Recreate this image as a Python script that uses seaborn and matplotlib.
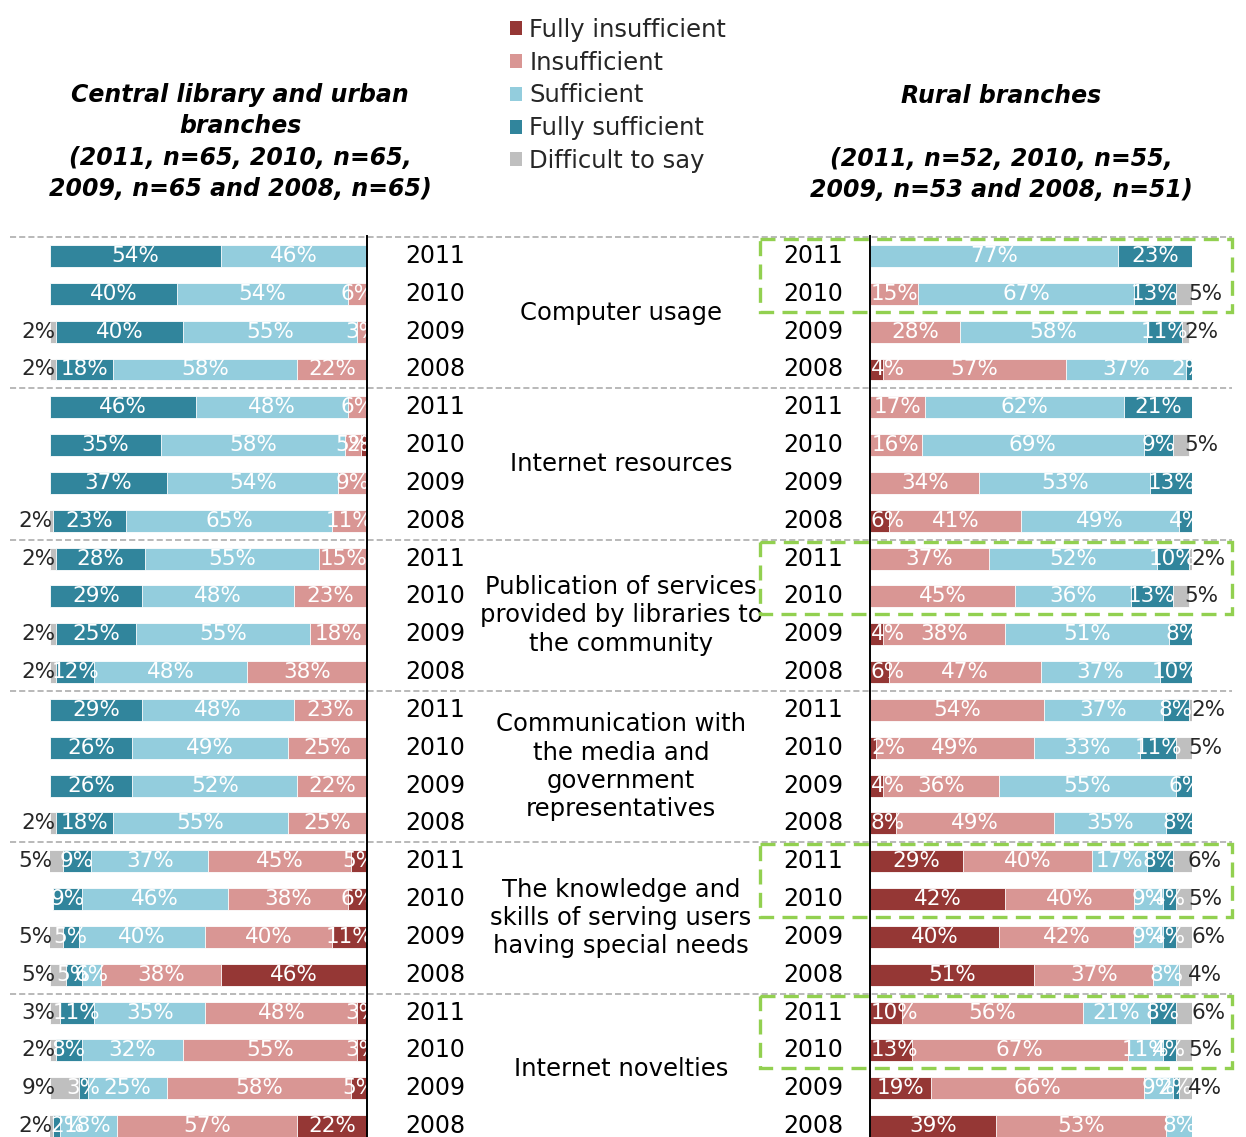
import numpy as np
import pandas as pd
import seaborn as sns
from matplotlib import pyplot as plt
from matplotlib.patches import Patch, Rectangle

sns.set_theme(style="white")
plt.rcParams['font.family'] = ['DejaVu Sans']
plt.rcParams['text.color'] = 'black'

levels = ['Fully insufficient', 'Insufficient', 'Sufficient', 'Fully sufficient', 'Difficult to say']
colors = ['#953735', '#D99694', '#93CDDD', '#31859C', '#BFBFBF']
groups = ['Computer usage',
          'Internet resources',
          'Publication of services\nprovided by libraries to\nthe community',
          'Communication with\nthe media and\ngovernment\nrepresentatives',
          'The knowledge and\nskills of serving users\nhaving special needs',
          'Internet novelties']
years = ['2011', '2010', '2009', '2008']
boxed_groups = [0, 2, 4, 5]

left_title = 'Central library and urban\nbranches\n(2011, n=65, 2010, n=65,\n2009, n=65 and 2008, n=65)'
right_title = 'Rural branches\n\n(2011, n=52, 2010, n=55,\n2009, n=53 and 2008, n=51)'

# central library and urban branches, rows = group x year (2011..2008)
urban_fully_insufficient = [0, 0, 0, 0, 0, 2, 0, 0, 0, 0, 0, 0, 0, 0, 0, 0, 5, 6, 11, 46, 3, 3, 5, 22]
urban_insufficient = [0, 6, 3, 22, 6, 5, 9, 11, 15, 23, 18, 38, 23, 25, 22, 25, 45, 38, 40, 38, 48, 55, 58, 57]
urban_sufficient = [46, 54, 55, 58, 48, 58, 54, 65, 55, 48, 55, 48, 48, 49, 52, 55, 37, 46, 40, 6, 35, 32, 25, 18]
urban_fully_sufficient = [54, 40, 40, 18, 46, 35, 37, 23, 28, 29, 25, 12, 29, 26, 26, 18, 9, 9, 5, 5, 11, 8, 3, 2]
urban_difficult = [0, 0, 2, 2, 0, 0, 0, 2, 2, 0, 2, 2, 0, 0, 0, 2, 5, 0, 5, 5, 3, 2, 9, 2]

# rural branches
rural_fully_insufficient = [0, 0, 0, 4, 0, 0, 0, 6, 0, 0, 4, 6, 0, 2, 4, 8, 29, 42, 40, 51, 10, 13, 19, 39]
rural_insufficient = [0, 15, 28, 57, 17, 16, 34, 41, 37, 45, 38, 47, 54, 49, 36, 49, 40, 40, 42, 37, 56, 67, 66, 53]
rural_sufficient = [77, 67, 58, 37, 62, 69, 53, 49, 52, 36, 51, 37, 37, 33, 55, 35, 17, 9, 9, 8, 21, 11, 9, 8]
rural_fully_sufficient = [23, 13, 11, 2, 21, 9, 13, 4, 10, 13, 8, 10, 8, 11, 6, 8, 8, 4, 4, 0, 8, 4, 2, 0]
rural_difficult = [0, 5, 2, 0, 0, 5, 0, 0, 2, 5, 0, 0, 2, 5, 0, 0, 6, 5, 6, 4, 6, 5, 4, 0]

row_order = [f'{g}|{y}' for g in range(len(groups)) for y in years]


def make_frame(series):
    df = pd.DataFrame(dict(zip(levels, series)))
    df['row'] = row_order
    return df


urban = make_frame([urban_fully_insufficient, urban_insufficient, urban_sufficient,
                    urban_fully_sufficient, urban_difficult])
rural = make_frame([rural_fully_insufficient, rural_insufficient, rural_sufficient,
                    rural_fully_sufficient, rural_difficult])

W, H = 1246, 1137
fig = plt.figure(figsize=(W / 100, H / 100), dpi=100)

# rows: centre of row r sits at 256 + 37.83*r pixels from the top
row_px = 37.83
top_px = 256 - 0.53 * row_px
bot_px = 256 + 23.5 * row_px
ax_bottom = 1 - bot_px / H
ax_height = (bot_px - top_px) / H
ylim = (23.5, -0.53)
label_fs = 15.5

ax_bg = fig.add_axes([0, ax_bottom, 1, ax_height], zorder=0)
ax_bg.set_xlim(0, W)
ax_bg.set_ylim(*ylim)
ax_bg.axis('off')

ax_l = fig.add_axes([50 / W, ax_bottom, 317 / W, ax_height], zorder=2)
ax_r = fig.add_axes([870 / W, ax_bottom, 322 / W, ax_height], zorder=2)


def half_width(txt, px_per_unit):
    ndig = len(txt) - 1
    return (0.636 * ndig + 0.95) * label_fs * 100 / 72 / 2 / px_per_unit


def draw_panel(ax, df, mirror, width_px):
    cum = df[levels].cumsum(axis=1)
    cum['row'] = df['row']
    # overlapped cumulative bars give the stacked look
    for k in range(len(levels) - 1, -1, -1):
        sns.barplot(data=cum, x=levels[k], y='row', order=row_order, orient='h',
                    color=colors[k], saturation=1, width=0.58, errorbar=None,
                    edgecolor='white', linewidth=0.6, ax=ax)
    ppu = width_px / 100
    for i, r in df.iterrows():
        start = 0
        for k, lev in enumerate(levels):
            v = r[lev]
            if v > 0:
                txt = f'{v}%'
                if lev == 'Difficult to say':
                    end = start + v
                    ax.annotate(txt, xy=(end, i),
                                xytext=(4 if mirror else -3, 0), textcoords='offset points',
                                ha='right' if mirror else 'left', va='center',
                                fontsize=label_fs, color='#262626', annotation_clip=False)
                else:
                    hw = half_width(txt, ppu)
                    xc = start + v / 2
                    if mirror:
                        xc = min(xc, 100 - hw)   # kept inside the outer end
                    else:
                        xc = max(xc, hw + 0.3)   # kept clear of the axis line
                    ax.text(xc, i, txt, ha='center', va='center',
                            fontsize=label_fs, color='white', clip_on=True)
            start += v
    ax.set_ylim(*ylim)
    ax.set_xlim((100, 0) if mirror else (0, 100))
    ax.set(xlabel='', ylabel='', xticks=[], yticks=[])
    ax.set_facecolor('none')
    for side in ['top', 'bottom', 'left', 'right']:
        ax.spines[side].set_visible(False)
    spine = ax.spines['right' if mirror else 'left']
    spine.set_visible(True)
    spine.set_color('black')
    spine.set_linewidth(1.4)
    spine.set_zorder(5)


draw_panel(ax_l, urban, True, 317)
draw_panel(ax_r, rural, False, 322)

# group separators
ax_bg.hlines([4 * g - 0.5 for g in range(len(groups))], 10, 1232,
             colors='#A6A6A6', linestyles=(0, (4, 2)), linewidth=1.1)

for g, name in enumerate(groups):
    for j, y in enumerate(years):
        r = 4 * g + j
        ax_bg.text(435, r, y, ha='center', va='center', fontsize=17)
        ax_bg.text(813, r, y, ha='center', va='center', fontsize=17)
    ax_bg.text(621, 4 * g + 1.5, name, ha='center', va='center', fontsize=17.5,
               linespacing=1.23)

for g in boxed_groups:
    ax_bg.add_patch(Rectangle((760, 4 * g - 0.45), 472, 1.92, fill=False,
                              edgecolor='#92D050', linewidth=2.4,
                              linestyle=(0, (4.5, 2.5)), zorder=3, clip_on=False))

fig.text(240 / W, 1 - 142 / H, left_title, ha='center', va='center', fontsize=17,
         fontweight='bold', fontstyle='italic', linespacing=1.37)
fig.text(1001 / W, 1 - 143 / H, right_title, ha='center', va='center', fontsize=17,
         fontweight='bold', fontstyle='italic', linespacing=1.37)

handles = [Patch(facecolor=c, edgecolor='none') for c in colors]
fig.legend(handles, levels, loc='upper left', bbox_to_anchor=(510 / W, 1 - 18 / H),
           frameon=False, fontsize=17.5, handlelength=0.5, handleheight=0.5,
           handletextpad=0.3, labelspacing=0.36, borderaxespad=0, borderpad=0,
           labelcolor='#262626')

plt.savefig('out.png', dpi=100)
